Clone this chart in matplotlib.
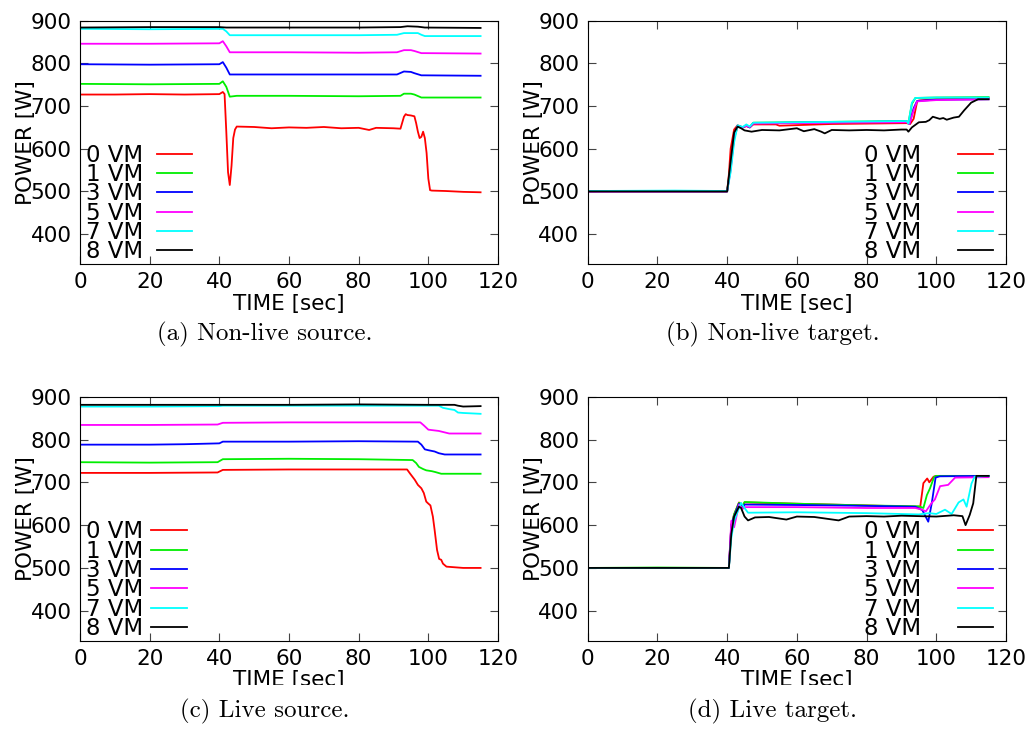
import matplotlib
matplotlib.use("Agg")
import matplotlib.pyplot as plt
from matplotlib.patches import Rectangle

# ---------------------------------------------------------------
# data: time [sec] / power [W] per VM count
# ---------------------------------------------------------------
LABELS = ["0 VM", "1 VM", "3 VM", "5 VM", "7 VM", "8 VM"]
COLORS = ["#ff0000", "#00ee00", "#0000ff", "#ff00ff", "#00ffff", "#000000"]

# (a) Non-live source
A0_T = [0, 10, 20, 30, 40, 41, 41.5, 42, 42.5, 43, 43.5, 44, 44.5, 45, 50, 55, 60, 65, 70, 75, 80, 83, 85, 90, 92,
        93, 93.5, 94, 95, 96, 96.5, 97, 97.5, 98, 98.5, 99, 99.5, 100, 100.5, 101, 105, 110, 115]
A0_P = [727, 727, 728, 727, 728, 733, 728, 640, 545, 515, 560, 625, 645, 652, 651, 648, 650, 649, 651, 648, 649, 644, 649, 648, 647,
        675, 681, 679, 678, 676, 660, 640, 625, 628, 640, 625, 590, 530, 503, 502, 501, 499, 498]
A1_T = [0, 20, 40, 41, 42, 43, 45, 60, 80, 92, 93, 95, 96, 98, 99, 115]
A1_P = [752, 751, 752, 758, 745, 722, 724, 724, 723, 724, 729, 729, 727, 720, 720, 720]
A3_T = [0, 20, 40, 41, 42, 43, 45, 60, 80, 91, 93, 95, 96, 98, 99, 115]
A3_P = [798, 797, 798, 803, 790, 774, 774, 774, 774, 774, 781, 780, 777, 772, 772, 771]
A5_T = [0, 20, 40, 41, 42, 43, 45, 60, 80, 91, 93, 95, 96, 98, 99, 115]
A5_P = [846, 846, 847, 852, 840, 826, 826, 826, 825, 826, 831, 831, 829, 824, 824, 823]
A7_T = [0, 20, 41, 42, 43, 45, 60, 80, 91, 93, 97, 98, 99, 115]
A7_P = [881, 880, 881, 875, 866, 866, 866, 866, 867, 871, 871, 867, 864, 864]
A8_T = [0, 20, 40, 42, 60, 80, 92, 94, 97, 99, 115]
A8_P = [884, 885, 885, 884, 884, 884, 885, 887, 886, 884, 883]

# (b) Non-live target
B0_T = [0, 20, 40, 40.5, 41, 42, 43, 44.5, 45.5, 46.5, 47.5, 54, 55, 70, 91.5, 92.5, 93.5, 94.5, 95, 100, 115]
B0_P = [500, 500, 500, 540, 600, 645, 655, 650, 653, 650, 657, 657, 654, 658, 660, 658, 670, 710, 713, 716, 718]
B1_T = [0, 20, 40, 41, 42, 43, 44.5, 45.5, 46.5, 47.5, 70, 91.5, 92, 93, 94, 100, 115]
B1_P = [501, 501, 500, 560, 625, 652, 650, 655, 651, 661, 663, 665, 660, 705, 719, 720, 721]
B3_T = [0, 20, 40, 41, 42, 43, 44.5, 45.5, 46.5, 47.5, 70, 91.5, 92.3, 93.5, 94.5, 100, 115]
B3_P = [500, 500, 500, 555, 630, 654, 650, 654, 650, 660, 662, 664, 658, 695, 712, 715, 716]
B5_T = [0, 20, 40, 41, 42, 43, 44.5, 45.5, 46.5, 47.5, 70, 91.5, 92.3, 93.5, 94.5, 100, 115]
B5_P = [500, 500, 500, 550, 625, 653, 650, 654, 651, 659, 661, 662, 658, 690, 711, 714, 716]
B7_T = [0, 25, 40, 41, 42, 43, 44.5, 45.5, 46.5, 47.5, 70, 91.5, 92, 93, 94, 100, 115]
B7_P = [501, 502, 501, 545, 615, 655, 651, 657, 652, 661, 663, 665, 659, 708, 719, 720, 720]
B8_T = [0, 20, 40, 41, 42, 43, 44, 45, 47, 50, 55, 58, 60, 62, 65, 67, 68, 70, 75, 80,
        85, 90, 91.5, 92, 93, 95, 97, 98, 99, 101, 102, 103, 105, 106.5, 108, 110, 112, 115]
B8_P = [500, 500, 500, 570, 638, 652, 648, 643, 640, 644, 643, 646, 648, 641, 646, 640, 636, 644, 643, 644,
        643, 645, 645, 640, 650, 662, 663, 667, 675, 670, 672, 668, 673, 675, 690, 708, 716, 716]

# (c) Live source
C0_T = [0, 20, 39.5, 41, 60, 80, 93.9, 94.7, 96.1, 97, 98, 98.7, 99.4, 99.9, 100.6, 101.3, 101.8, 102.5, 103.1, 103.7,
        104.2, 105.2, 110, 115]
C0_P = [722, 722, 723, 729, 730, 730, 730, 721, 706, 694, 686, 675, 655, 651, 646, 620, 589, 542, 521, 519,
        510, 503, 500, 500]
C1_T = [0, 20, 39.5, 41, 60, 80, 95.5, 96.5, 97.3, 98.5, 99.4, 101, 102, 103.7, 115]
C1_P = [747, 746, 747, 754, 755, 754, 752, 745, 736, 731, 728, 726, 724, 720, 720]
C3_T = [0, 20, 30, 40, 41, 60, 80, 97, 98, 99, 100, 101.8, 103, 104.7, 115]
C3_P = [788, 788, 789, 791, 795, 795, 796, 795, 788, 777, 775, 772, 768, 765, 765]
C5_T = [0, 20, 39.5, 41, 60, 80, 97.7, 98.7, 100, 101, 103, 104.5, 106, 115]
C5_P = [834, 834, 835, 839, 840, 840, 840, 833, 823, 822, 820, 817, 814, 814]
C7_T = [0, 20, 40, 41, 60, 80, 103, 104.2, 106, 107.5, 108.5, 110, 115]
C7_P = [877, 877, 878, 879, 879, 879, 879, 874, 871, 869, 863, 862, 860]
C8_T = [0, 20, 40, 60, 80, 100, 107.5, 108.5, 110, 115]
C8_P = [881, 881, 881, 881, 882, 881, 881, 879, 877, 878]

# (d) Live target
D0_T = [0, 20, 40.5, 41.2, 42, 43.4, 44.5, 45, 60, 80, 94, 95.4, 96.3, 97.4, 98, 99.2, 100, 115]
D0_P = [500, 500, 500, 600, 625, 653, 645, 653, 650, 646, 643, 643, 698, 709, 700, 713, 715, 715]
D1_T = [0, 20, 40.5, 41.2, 42, 43.4, 44.5, 45, 60, 80, 95, 96.3, 97.3, 98.2, 99.4, 100, 115]
D1_P = [500, 501, 500, 595, 625, 652, 645, 654, 650, 646, 644, 640, 670, 686, 713, 715, 715]
D3_T = [0, 20, 40.5, 41.2, 42, 43.4, 44.5, 45, 60, 80, 94, 96, 97.7, 98.7, 99.8, 101, 115]
D3_P = [500, 500, 500, 600, 620, 650, 640, 648, 647, 645, 643, 635, 608, 651, 711, 714, 715]
D5_T = [0, 20, 40.5, 41.2, 42, 43.4, 44.5, 45, 60, 80, 94, 96, 97, 98.6, 99.6, 101.1, 103.4, 105.4, 115]
D5_P = [500, 500, 500, 610, 595, 648, 638, 642, 642, 640, 640, 636, 632, 651, 660, 691, 694, 711, 712]
D7_T = [0, 20, 40.5, 41.2, 42, 43.4, 44, 45, 46, 60, 80, 95, 98, 100, 102.5, 104.4, 106.4, 107.8, 108.7, 110.1,
        111, 115]
D7_P = [500, 500, 500, 570, 610, 640, 652, 640, 629, 630, 628, 625, 628, 626, 636, 626, 653, 660, 643, 697,
        713, 715]
D8_T = [0, 20, 40.5, 41.2, 42, 43.4, 44, 45, 46, 48, 52, 57, 60, 65, 72, 75, 80, 85, 90, 95,
        100, 105, 107.5, 108.4, 109.6, 110.6, 111.5, 115]
D8_P = [500, 500, 500, 580, 620, 643, 640, 620, 611, 618, 619, 613, 620, 619, 611, 620, 621, 620, 622, 621,
        620, 623, 621, 600, 624, 651, 715, 715]

X_TICKS = [0, 20, 40, 60, 80, 100, 120]
Y_TICKS = [400, 500, 600, 700, 800, 900]
CAPTIONS = ["(a) Non-live source.", "(b) Non-live target.", "(c) Live source.", "(d) Live target."]

PANELS = [
    [(A0_T, A0_P), (A1_T, A1_P), (A3_T, A3_P), (A5_T, A5_P), (A7_T, A7_P), (A8_T, A8_P)],
    [(B0_T, B0_P), (B1_T, B1_P), (B3_T, B3_P), (B5_T, B5_P), (B7_T, B7_P), (B8_T, B8_P)],
    [(C0_T, C0_P), (C1_T, C1_P), (C3_T, C3_P), (C5_T, C5_P), (C7_T, C7_P), (C8_T, C8_P)],
    [(D0_T, D0_P), (D1_T, D1_P), (D3_T, D3_P), (D5_T, D5_P), (D7_T, D7_P), (D8_T, D8_P)],
]

# axes boxes in figure pixels: left, top, right, bottom
W, H = 1035, 729
BOXES = [(80, 20.7, 498, 264), (587.7, 20.7, 1006, 264),
         (80, 396.7, 498, 640.7), (587.7, 396.7, 1006, 640.7)]
CAPTION_POS = [(265, 334), (773, 334), (265, 711), (773, 711)]

plt.rcParams.update({
    "font.family": "DejaVu Sans",
    "font.size": 15.5,
})

fig = plt.figure(figsize=(W / 100, H / 100), dpi=100)

for i, (series, box) in enumerate(zip(PANELS, BOXES)):
    l, t, r, b = box
    ax = fig.add_axes([l / W, 1 - b / H, (r - l) / W, (b - t) / H])
    for (tt, pp), lab, col in zip(series, LABELS, COLORS):
        ax.plot(tt, pp, color=col, lw=1.3, label=lab)

    ax.set_xlim(0, 120)
    ax.set_ylim(330, 900)
    ax.set_xticks(X_TICKS)
    ax.set_yticks(Y_TICKS)
    ax.tick_params(direction="in", top=True, right=True, length=6, width=0.8,
                   color="#444444", labelsize=15.5, pad=6)
    ax.set_xlabel("TIME [sec]", fontsize=15.5, labelpad=1)
    ax.set_ylabel("POWER [W]", fontsize=15.5)
    ax.yaxis.set_label_coords(-0.105, 0.5)

    leg_kw = dict(frameon=False, markerfirst=False, handlelength=1.55,
                  labelspacing=-0.16, borderpad=0, borderaxespad=0, fontsize=16.5)
    if i % 2 == 0:
        pad = 0.6 if i == 0 else 0.35
        ax.legend(loc="lower left", bbox_to_anchor=(0.014, 0.003),
                  handletextpad=pad, **leg_kw)
    else:
        ax.legend(loc="lower right", bbox_to_anchor=(0.969, 0.003),
                  handletextpad=1.6, **leg_kw)

for cap, (cx, cy) in zip(CAPTIONS, CAPTION_POS):
    fig.text(cx / W, 1 - cy / H, cap, ha="center", va="center",
             family="cmr10", fontsize=18, zorder=20)

# the bottom-row axis labels are cut off in the original layout
for x0 in (200, 705):
    fig.patches.append(Rectangle((x0 / W, 1 - 696 / H), 190 / W, 11 / H,
                                 transform=fig.transFigure, facecolor="white",
                                 edgecolor="none", zorder=10))

fig.savefig("out.png", dpi=100)
